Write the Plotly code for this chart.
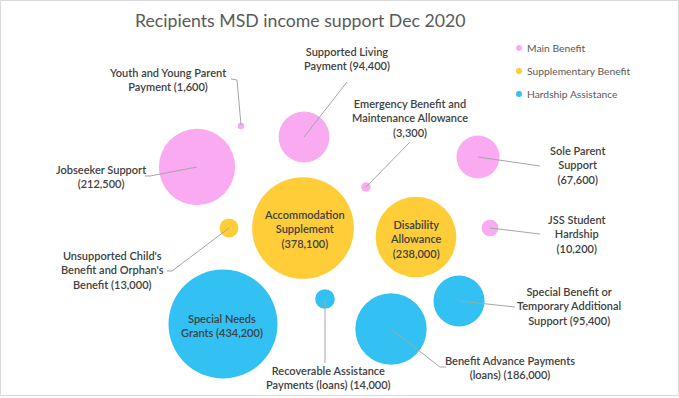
import plotly.graph_objects as go

# ---- data ----
categories = ["Main Benefit", "Supplementary Benefit", "Hardship Assistance"]
payment_names = [
    "Jobseeker Support", "Youth and Young Parent Payment", "Supported Living Payment",
    "Emergency Benefit and Maintenance Allowance", "Sole Parent Support", "JSS Student Hardship",
    "Accommodation Supplement", "Disability Allowance", "Unsupported Child's Benefit and Orphan's Benefit",
    "Special Needs Grants", "Recoverable Assistance Payments (loans)", "Benefit Advance Payments (loans)",
    "Special Benefit or Temporary Additional Support",
]
recipients = [212500, 1600, 94400, 3300, 67600, 10200, 378100, 238000, 13000, 434200, 14000, 186000, 95400]
payment_group = [0, 0, 0, 0, 0, 0, 1, 1, 1, 2, 2, 2, 2]
label_lines = [
    ["Jobseeker Support", "(212,500)"],
    ["Youth and Young Parent", "Payment (1,600)"],
    ["Supported Living", "Payment (94,400)"],
    ["Emergency Benefit and", "Maintenance Allowance", "(3,300)"],
    ["Sole Parent", "Support", "(67,600)"],
    ["JSS Student", "Hardship", "(10,200)"],
    ["Accommodation", "Supplement", "(378,100)"],
    ["Disability", "Allowance", "(238,000)"],
    ["Unsupported Child's", "Benefit and Orphan's", "Benefit (13,000)"],
    ["Special Needs", "Grants (434,200)"],
    ["Recoverable Assistance", "Payments (loans) (14,000)"],
    ["Benefit Advance Payments", "(loans) (186,000)"],
    ["Special Benefit or", "Temporary Additional", "Support (95,400)"],
]

# ---- layout positions (pixel coordinates of the canvas) ----
bubble_x = [197, 241, 304, 366, 478, 490, 303, 416, 229, 223, 325, 391, 459]
bubble_y = [167, 126, 137, 187, 157, 228, 228, 237, 228, 324, 299, 329, 301]
label_x = [101, 167, 347, 410, 577, 577, 304, 416, 112, 222, 328, 510, 569]
label_y = [176, 79, 58, 118, 165, 234, 229, 239, 270, 325, 377, 367, 306]
leader_paths = [
    [(197, 167), (150, 176), (145, 176)],
    [(241, 125), (237, 80), (231, 79)],
    [(304, 137), (347, 82)],
    [(366, 187), (410, 142)],
    [(478, 157), (540, 166)],
    [(490, 228), (540, 234)],
    None, None,
    [(229, 228), (172, 271), (167, 271)],
    None,
    [(325, 299), (325, 363)],
    [(391, 329), (440, 367), (446, 367)],
    [(459, 301), (515, 307)],
]
W, H = 679, 398
colors = ["#F9AAF0", "#FFCD38", "#33C0F2"]
legend_x, legend_y = 519, [48, 71, 94]

max_diam = 109
# plotly area mode: radius = sqrt(v / 2 / sizeref)
sizeref = 2 * max(recipients) / max_diam ** 2

fig = go.Figure()
fig.add_trace(go.Scatter(
    x=bubble_x, y=bubble_y, mode="markers",
    marker=dict(size=recipients, sizemode="area", sizeref=sizeref,
                color=[colors[g] for g in payment_group], line=dict(width=0), opacity=1),
    text=payment_names, hoverinfo="text", showlegend=False,
))

shapes = [dict(type="rect", xref="x", yref="y", x0=0.5, x1=W - 0.5, y0=0.5, y1=H - 2.5,
               line=dict(color="#D9D9D9", width=1), layer="below")]
for p in leader_paths:
    if p is None:
        continue
    d = "M " + " L ".join(f"{x},{y}" for x, y in p)
    shapes.append(dict(type="path", path=d, xref="x", yref="y",
                       line=dict(color="#A6A6A6", width=1), layer="above"))

font_fam = "Lato, 'Open Sans', sans-serif"
annotations = []
for lines, lx, ly in zip(label_lines, label_x, label_y):
    annotations.append(dict(x=lx, y=ly, xref="x", yref="y", showarrow=False,
                            text="<br>".join(lines), align="center",
                            font=dict(family=font_fam, size=11, color="#404040", weight=600),
                            xanchor="center", yanchor="middle"))

annotations.append(dict(x=133, y=20, xref="x", yref="y", showarrow=False, xanchor="left",
                        yanchor="middle", text="Recipients MSD income support Dec 2020",
                        font=dict(family="Lato, sans-serif", size=17.7, color="#595959")))

# legend (drawn manually)
fig.add_trace(go.Scatter(x=[legend_x] * 3, y=legend_y, mode="markers",
                         marker=dict(size=6, color=colors), hoverinfo="skip", showlegend=False))
for name, ly in zip(categories, legend_y):
    annotations.append(dict(x=legend_x + 6, y=ly, xref="x", yref="y", showarrow=False,
                            xanchor="left", yanchor="middle", text=name,
                            font=dict(family=font_fam, size=10.3, color="#595959")))

fig.update_layout(
    width=W, height=H, margin=dict(l=0, r=0, t=0, b=0),
    paper_bgcolor="white", plot_bgcolor="white",
    xaxis=dict(range=[0, W], visible=False, fixedrange=True),
    yaxis=dict(range=[H, 0], visible=False, fixedrange=True),
    shapes=shapes, annotations=annotations,
)
fig.write_html("out.html", config={"displayModeBar": False},
               post_script="document.body.style.margin='0';document.body.style.overflow='hidden';")
